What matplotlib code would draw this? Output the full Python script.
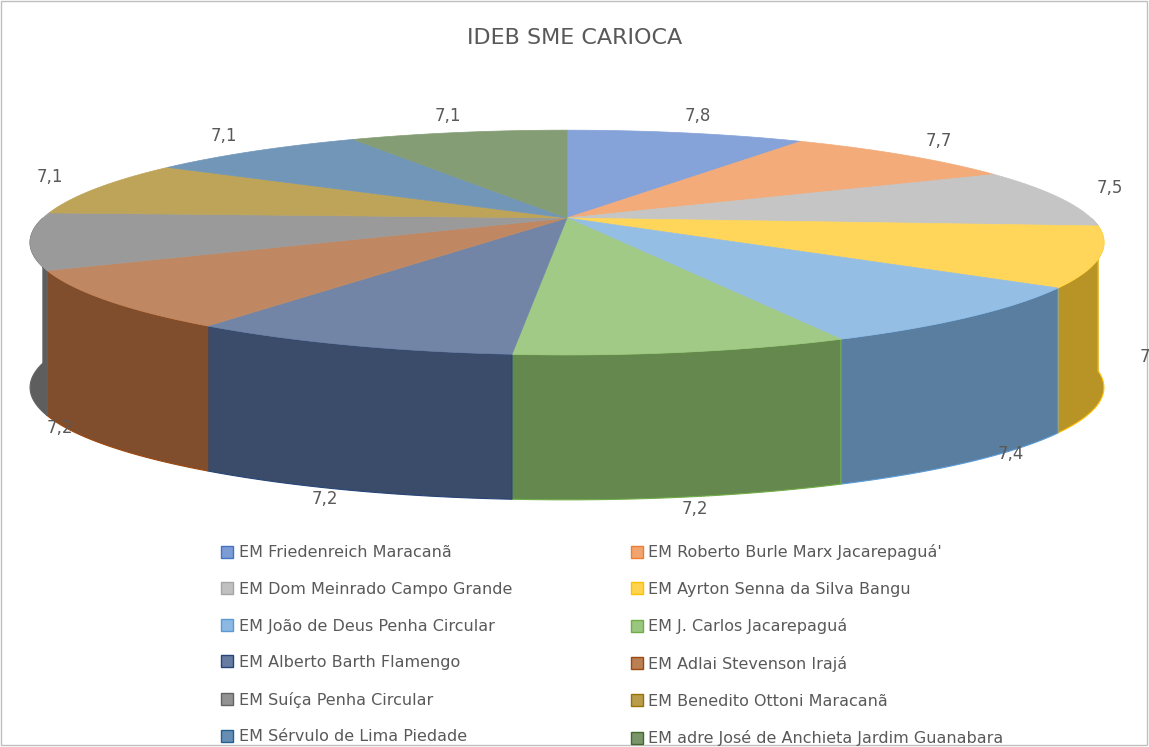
import numpy as np
import matplotlib
matplotlib.use("Agg")
import matplotlib.pyplot as plt
from matplotlib.patches import Polygon, Rectangle
from matplotlib.lines import Line2D
import matplotlib.colors as mc

categories = ["EM Friedenreich Maracanã", "EM Roberto Burle Marx Jacarepaguá'",
              "EM Dom Meinrado Campo Grande", "EM Ayrton Senna da Silva Bangu",
              "EM João de Deus Penha Circular", "EM J. Carlos Jacarepaguá",
              "EM Alberto Barth Flamengo", "EM Adlai Stevenson Irajá",
              "EM Suíça Penha Circular", "EM Benedito Ottoni Maracanã",
              "EM Sérvulo de Lima Piedade", "EM adre José de Anchieta Jardim Guanabara"]
values = [7.8, 7.7, 7.5, 7.5, 7.4, 7.2, 7.2, 7.2, 7.1, 7.1, 7.1, 7.1]
value_labels = ["7,8", "7,7", "7,5", "7,5", "7,4", "7,2", "7,2", "7,2", "7,1", "7,1", "7,1", "7,1"]
colors = ["#4472C4", "#ED7D31", "#A5A5A5", "#FFC000", "#5B9BD5", "#70AD47",
          "#264478", "#9E480E", "#636363", "#997300", "#255E91", "#43682B"]

W, H = 1149, 747
fig = plt.figure(figsize=(W/100, H/100), dpi=100)
ax = fig.add_axes([0, 0, 1, 1])
ax.set_xlim(0, W); ax.set_ylim(H, 0); ax.axis("off")
ax.add_patch(Rectangle((1, 1), W-3, H-3, fill=False, ec="#BFBFBF", lw=1))

cx, cy0, R, Ry, k, depth = 567, 218, 524, 107, 0.218, 145

def lighten(c, f):
    r = np.array(mc.to_rgb(c)); return tuple(r + (1 - r) * f)
def darken(c, f):
    return tuple(np.array(mc.to_rgb(c)) * f)

def pt(t, rad=1.0):
    s = 1.0 / (1 + k*np.sin(t))
    return cx + R*rad*np.cos(t)*s, cy0 - Ry*rad*np.sin(t)*s

fr = np.array(values) / sum(values)
bounds = np.pi/2 - 2*np.pi*np.concatenate([[0], np.cumsum(fr)])

for i, c in enumerate(colors):
    t = np.linspace(bounds[i], bounds[i+1], 300)
    t = t[np.sin(t) <= 0.0]
    if len(t) < 2:
        continue
    xs, ys = pt(t)
    poly = np.column_stack([np.r_[xs, xs[::-1]], np.r_[ys, ys[::-1] + depth]])
    ax.add_patch(Polygon(poly, fc=darken(lighten(c, 0.2), 0.72), ec=c, lw=0.8))
for i, c in enumerate(colors):
    t = np.linspace(bounds[i], bounds[i+1], 300)
    xs, ys = pt(t)
    poly = np.column_stack([np.r_[cx, xs], np.r_[cy0, ys]])
    ax.add_patch(Polygon(poly, fc=lighten(c, 0.35), ec=lighten(c, 0.35), lw=0.5))

for i, lab in enumerate(value_labels):
    m = (bounds[i] + bounds[i+1]) / 2
    x, y = pt(m, 1.1)
    if np.sin(m) < 0:
        y += depth * (0.5 - 0.5*np.sin(m))
    else:
        y -= 8
    ax.text(x, y, lab, ha="center", va="center", fontsize=12, color="#595959")

ax.text(W/2, 38, "IDEB SME CARIOCA", ha="center", va="center", fontsize=16, color="#595959")

handles = [Line2D([], [], marker="s", ls="", markersize=9, markerfacecolor=lighten(c, 0.3),
                  markeredgecolor=c) for c in colors]
order = list(range(0, 12, 2)) + list(range(1, 12, 2))
fig.legend([handles[i] for i in order], [categories[i] for i in order], ncol=2,
           loc="upper left", bbox_to_anchor=(205/W, 1 - 530/H), frameon=False,
           fontsize=11.5, labelcolor="#595959", handletextpad=0.2, columnspacing=7.3,
           labelspacing=1.35, handlelength=1)

fig.savefig("out.png", dpi=100)
